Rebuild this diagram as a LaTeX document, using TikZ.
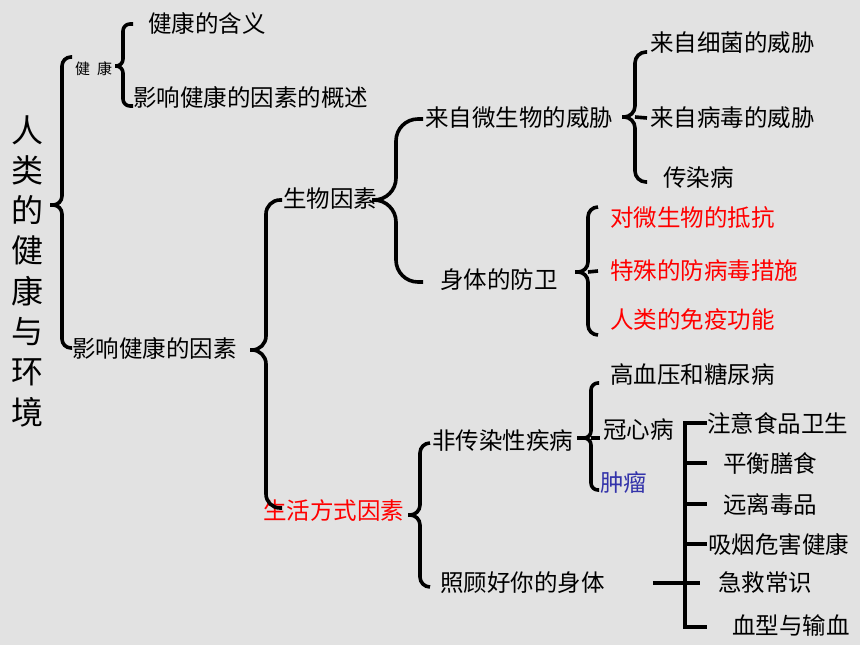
\documentclass[tikz,border=0pt]{standalone}
\usepackage{fontspec}
\setmainfont{Noto Sans CJK SC}
\usetikzlibrary{calc,positioning}
\definecolor{bggray}{RGB}{226,226,226}
\definecolor{tumorblue}{RGB}{51,51,170}
\tikzstyle{item} = [anchor=west, inner sep=0pt,
    font=\fontsize{23.5}{26}\selectfont]
\tikzstyle{ritem} = [item, text=red]
\tikzstyle{ln} = [draw, line width=3.6pt]
\tikzset{brc/.style={ln, rounded corners=#1}}

\begin{document}
\begin{tikzpicture}[x=1pt,y=-1pt]
\fill[bggray] (0,0) rectangle (860,645);
\useasboundingbox (0,0) rectangle (860,645);

% title column
\node (title) [align=center, inner sep=0pt, font=\fontsize{32}{40.3}\selectfont] at (27,271)
    {人\\类\\的\\健\\康\\与\\环\\境};

% first level
\node (jk) [anchor=west, inner sep=0pt, font=\fontsize{15}{17}\selectfont] at (75,69) {健\hspace{7pt}康};
\node (yinsu) [item] at (72,348) {影响健康的因素};
\node (hanyi) [item] at (148,23) {健康的含义};
\node (gaishu) [item] at (133,97) {影响健康的因素的概述};

\node (shengwu) [item] at (283,199) {生物因素};
\node (shenghuo) [ritem] at (263,511) {生活方式因素};

\node (weixie) [item] at (425,118) {来自微生物的威胁};
\node (fangwei) [item] at (440,280) {身体的防卫};
\node (xijun) [item] at (650,43) {来自细菌的威胁};
\node (bingdu) [item] at (650,118) {来自病毒的威胁};
\node (chuanran) [item] at (663,178) {传染病};
\node (dikang) [ritem] at (610,218) {对微生物的抵抗};
\node (teshu) [ritem] at (610,271) {特殊的防病毒措施};
\node (mianyi) [ritem] at (610,320) {人类的免疫功能};

\node (fei) [item] at (432,441) {非传染性疾病};
\node (zhaogu) [item] at (440,583) {照顾好你的身体};
\node (gaoxueya) [item] at (610,375) {高血压和糖尿病};
\node (guanxin) [item] at (603,430) {冠心病};
\node (zhongliu) [item, text=tumorblue] at (600,483) {肿瘤};

\node (weisheng) [item] at (707,423) {注意食品卫生};
\node (pingheng) [item] at (723,463) {平衡膳食};
\node (yuanli) [item] at (723,504) {远离毒品};
\node (xiyan) [item] at (708,544) {吸烟危害健康};
\node (jijiu) [item] at (718,583) {急救常识};
\node (xuexing) [item] at (732,626) {血型与输血};

% brace points
\coordinate (b1tip) at (50,205);  \coordinate (b1top) at (72,57);   \coordinate (b1bot) at (72,348);
\coordinate (b2tip) at (115,66);  \coordinate (b2top) at (133,24);  \coordinate (b2bot) at (133,106);
\coordinate (b3tip) at (250,350); \coordinate (b3top) at (282,200); \coordinate (b3bot) at (282,508);
\coordinate (b4tip) at (372,200); \coordinate (b4top) at (423,119); \coordinate (b4bot) at (423,282);
\coordinate (b5tip) at (622,117); \coordinate (b5top) at (647,52);  \coordinate (b5bot) at (647,182);
\coordinate (b6tip) at (575,272); \coordinate (b6top) at (598,207); \coordinate (b6bot) at (598,335);
\coordinate (b7tip) at (408,515); \coordinate (b7top) at (430,443); \coordinate (b7bot) at (430,587);
\coordinate (b8tip) at (577,438); \coordinate (b8top) at (599,383); \coordinate (b8bot) at (599,490);
\coordinate (kbot) at (685,627);

\draw[brc=9pt] (b1tip) -- ++(12,0) |- (b1top) (b1tip) -- ++(12,0) |- (b1bot);
\draw[brc=7pt] (b2tip) -- ++(8,0) |- (b2top) (b2tip) -- ++(8,0) |- (b2bot);
\draw[brc=14pt] (b3tip) -- ++(16,0) |- (b3top) (b3tip) -- ++(16,0) |- (b3bot);
\draw[brc=22pt] (b4tip) -- ++(24,0) |- (b4top) (b4tip) -- ++(24,0) |- (b4bot);
\draw[brc=11pt] (b5tip) -- ++(13,0) |- (b5top) (b5tip) -- ++(13,0) |- (b5bot);
\draw[brc=10pt] (b6tip) -- ++(13,0) |- (b6top) (b6tip) -- ++(13,0) |- (b6bot);
\draw[brc=10pt] (b7tip) -- ++(12,0) |- (b7top) (b7tip) -- ++(12,0) |- (b7bot);
\draw[brc=7pt] (b8tip) -- ++(14,0) |- (b8top) (b8tip) -- ++(14,0) |- (b8bot);

% middle ticks
\draw[ln] ([xshift=13pt]b5tip) -- ([xshift=-3pt]bingdu.west);
\draw[ln] ([xshift=13pt]b6tip) -- ([xshift=-12pt]teshu.west);
\draw[ln] ([xshift=14pt]b8tip) -- ++(9,0);

% healthy habits bar
\draw[ln] (weisheng.west) -| (kbot) -- ++(22,0);
\draw[ln] (kbot |- pingheng.west) -- ++(22,0);
\draw[ln] (kbot |- yuanli.west) -- ++(22,0);
\draw[ln] (kbot |- xiyan.west) -- ++(22,0);
\draw[ln] ([xshift=48pt]zhaogu.east) -- ++(47,0);

\end{tikzpicture}
\end{document}
